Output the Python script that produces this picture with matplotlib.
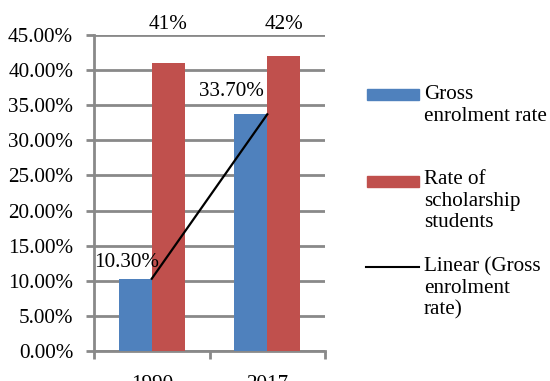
import numpy as np
import matplotlib
matplotlib.use("Agg")
import matplotlib.pyplot as plt
from matplotlib.patches import Rectangle
from matplotlib.lines import Line2D

years = ["1990", "2017"]
gross = [0.103, 0.337]
scholar = [0.41, 0.42]
gross_labels = ["10.30%", "33.70%"]
scholar_labels = ["41%", "42%"]
yticks = [0, 0.05, 0.10, 0.15, 0.20, 0.25, 0.30, 0.35, 0.40, 0.45]

blue = "#4F81BD"
red = "#C0504D"
grid = "#898989"

plt.rcParams["font.family"] = ["Liberation Serif", "DejaVu Serif"]
fs = 15.2

W, H = 550, 381
fig = plt.figure(figsize=(5.5, 3.81), dpi=100)
ax = fig.add_axes([94 / W, 1 - 351 / H, (325 - 94) / W, (351 - 35) / H])

x = np.arange(len(years))
bw = 0.287
ax.bar(x - bw / 2, gross, bw, color=blue, zorder=3)
ax.bar(x + bw / 2, scholar, bw, color=red, zorder=3)

# linear trendline through the gross rate points
k, b = np.polyfit(x, gross, 1)
ax.plot(x, k * x + b, color="black", lw=1.6, zorder=4)

ax.set_ylim(0, 0.45)
ax.set_xlim(-0.5, 1.5)
ax.set_yticks(yticks)
ax.set_yticklabels(["%.2f%%" % (v * 100) for v in yticks], fontsize=fs)
ax.tick_params(axis="y", length=6, width=2, color=grid, pad=9)

ax.set_xticks([-0.5, 0.5, 1.5])
ax.set_xticklabels([])
ax.set_xticks(x, minor=True)
ax.set_xticklabels(years, minor=True, fontsize=fs)
ax.tick_params(axis="x", which="major", length=6, width=2, color=grid)
ax.tick_params(axis="x", which="minor", length=0, pad=17)

ax.yaxis.grid(True, color=grid, lw=2, zorder=0)
ax.set_axisbelow(True)
for s in ["top", "right"]:
    ax.spines[s].set_visible(False)
for s in ["left", "bottom"]:
    ax.spines[s].set_color(grid)
    ax.spines[s].set_linewidth(2)

# data labels
ax.text(x[0] - bw / 2 - 0.07, gross[0] + 0.023, gross_labels[0], ha="center", va="center", fontsize=fs, zorder=5)
ax.text(x[1] - bw / 2 - 0.17, gross[1] + 0.033, gross_labels[1], ha="center", va="center", fontsize=fs, zorder=5)
for i in range(2):
    ax.text(x[i] + bw / 2, 0.465, scholar_labels[i], ha="center", va="center", fontsize=fs, clip_on=False)

# legend drawn on the right
def fy(py):
    return 1 - py / H

fig.add_artist(Rectangle((367 / W, fy(100)), 52 / W, 11 / H, color=blue, transform=fig.transFigure))
fig.add_artist(Rectangle((367 / W, fy(187)), 52 / W, 11 / H, color=red, transform=fig.transFigure))
fig.add_artist(Line2D([366 / W, 419 / W], [fy(267), fy(267)], color="black", lw=1.5, transform=fig.transFigure))
fig.text(424 / W, fy(85), "Gross\nenrolment rate", fontsize=fs, va="top", linespacing=1.18)
fig.text(424 / W, fy(170), "Rate of\nscholarship\nstudents", fontsize=fs, va="top", linespacing=1.18)
fig.text(424 / W, fy(257), "Linear (Gross\nenrolment\nrate)", fontsize=fs, va="top", linespacing=1.18)

fig.savefig("out.png", dpi=100)
